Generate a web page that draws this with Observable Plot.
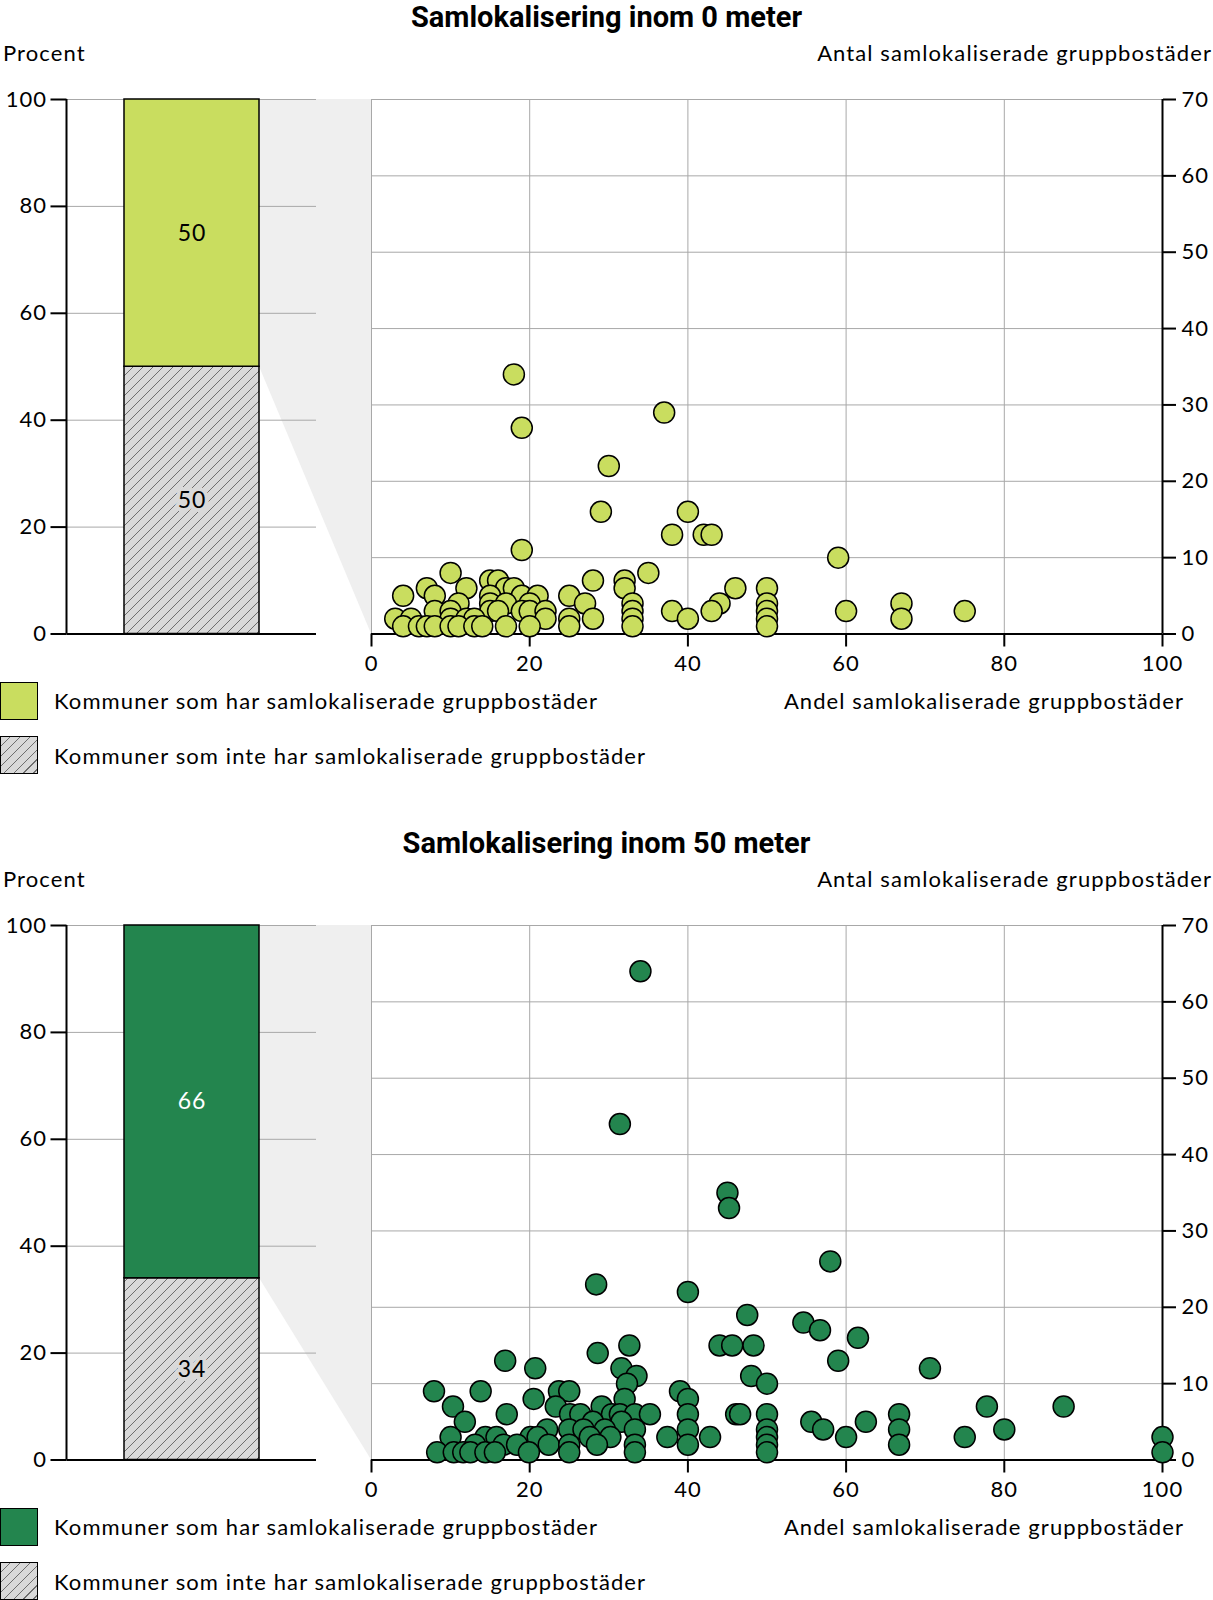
<!DOCTYPE html>
<html><head><meta charset="utf-8">
<script src="https://cdn.jsdelivr.net/npm/d3@7"></script>
<script src="https://cdn.jsdelivr.net/npm/@observablehq/plot@0.6"></script>
<style>
body{margin:0;background:#fff;color:#000;font-family:Lato,"Noto Sans",sans-serif;}
#root{position:relative;width:1213px;height:1600px;overflow:hidden;}
.panel{position:absolute;left:0;width:1213px;height:826px;}
.panel svg{position:absolute;left:0;top:0;}
.t{position:absolute;white-space:nowrap;font-size:22px;line-height:1;letter-spacing:1.1px;transform:translateY(-50%);}
.title{position:absolute;left:0;width:1213px;text-align:center;white-space:nowrap;font-family:Roboto,sans-serif;font-weight:700;font-size:29px;line-height:1;transform:translateY(-50%);}
.sw{position:absolute;left:0;width:36px;height:36px;border:1px solid #000;box-sizing:content-box;}
</style></head>
<body><div id="root"></div>
<script>
const panelTitles = ["Samlokalisering inom 0 meter", "Samlokalisering inom 50 meter"];
const leftAxisLabel = "Procent";
const rightAxisLabel = "Antal samlokaliserade gruppbostäder";
const xAxisLabel = "Andel samlokaliserade gruppbostäder";
const legendLabels = ["Kommuner som har samlokaliserade gruppbostäder", "Kommuner som inte har samlokaliserade gruppbostäder"];
const barHar = [50, 66];
const barInte = [50, 34];
const colorsHar = ["#c9dd5f", "#23854e"];
const labelColorsHar = ["#000", "#fff"];
const xTicks = [0, 20, 40, 60, 80, 100];
const yTicksAntal = [0, 10, 20, 30, 40, 50, 60, 70];
const yTicksProcent = [0, 20, 40, 60, 80, 100];

const andel0 = [18,19,37,30,29,40,38,42,43,19, 59,10,35,28,32,15,16,7,12,17, 18,32,46,50,4,8,15,19,21,25, 11,15,17,20,27,33,44,50,67,8, 10,15,16,19,20,22,33,38,43,50, 60,75,3,5,10,12,13,22,25,28, 33,40,50,67,4,6,7,8,10,11, 13,14,17,20,25,33,50];
const antal0 = [34,27,29,22,16,16,13,13,13,11, 10,8,8,7,7,7,7,6,6,6, 6,6,6,6,5,5,5,5,5,5, 4,4,4,4,4,4,4,4,4, 3,3,3,3,3,3,3,3,3,3,3,3,3, 2,2,2,2,2,2,2,2,2,2,2,2, 1,1,1,1,1,1,1,1,1,1,1,1,1];

const andel50 = [34,31.4,45,45.2,58,28.4,40,47.5,54.6,56.7, 61.5,32.6,44,45.6,48.3,28.6,16.9,59,20.7,31.6, 70.6,33.5,48,32.3,50,7.9,13.8,23.7,25,39, 20.5,32,40,10.3,23.3,29.1,77.8,87.5,17.1,25.1, 26.4,30.4,31.4,33.3,35.2,40,46.1,46.6,50,66.7, 11.8,28,31.6,55.6,62.5,22.2,25,26.8,29.5,33.3, 40,50,57.1,66.7,80,10,14.4,15.8,20.1,21, 27.6,30.2,37.4,42.8,50,60,75,100,13.1,16.7, 18.4,22.4,25,28.5,33.3,40,50,66.7,8.3,10.4, 11.6,12.5,14.4,15.6,19.9,25,33.3,50,100];
const antal50 = [64,44,35,33,26,23,22,19,18,17, 16,15,15,15,15,14,13,13,12,12, 12,11,11,10,10,9,9,9,9,9, 8,8,8,7,7,7,7,7,6,6, 6,6,6,6,6,6,6,6,6,6, 5,5,5,5,5,4,4,4,4,4, 4,4,4,4,4,3,3,3,3,3, 3,3,3,3,3,3,3,3,2,2, 2,2,2,2,2,2,2,2,1,1, 1,1,1,1,1,1,1,1,1];

const andelSets = [andel0, andel50];
const antalSets = [antal0, antal50];

const GRID = "#a8a8a8";
const FONT = "Lato, 'Noto Sans', sans-serif";
const style = {fontFamily: FONT, fontSize: "22px", letterSpacing: "1px", color: "#000", background: "transparent", overflow: "visible"};
const H = 680, TOP = 99, BOTTOM = H - 633.5, SPLIT = 371, RIGHT = 51;

const root = document.getElementById("root");

function addText(parent, cls, text, css) {
  const d = document.createElement("div");
  d.className = cls; d.textContent = text;
  Object.assign(d.style, css);
  parent.appendChild(d);
  return d;
}

function trapezoidMark(share, hatchId) {
  return (index, scales, values, dims) => {
    const g = d3.create("svg:g");
    const p = g.append("defs").append("pattern").attr("id", hatchId)
      .attr("patternUnits", "userSpaceOnUse").attr("width", 10).attr("height", 10);
    p.append("rect").attr("width", 10).attr("height", 10).attr("fill", "#d9d9d9");
    p.append("path").attr("d", "M-2,2L2,-2M0,10L10,0M8,12L12,8")
      .attr("stroke", "#6e6e6e").attr("stroke-width", 1);
    const xr = scales.x("bar") + scales.x.bandwidth();
    const w = dims.width;
    const pts = [[xr, scales.y(100)], [w, scales.y(100)], [w, scales.y(0)], [xr, scales.y(share)]];
    g.append("polygon").attr("points", pts.map(q => q.join(",")).join(" ")).attr("fill", "#efefef");
    return g.node();
  };
}

function leftAxisLine() {
  return (index, scales, values, dims) => {
    const g = d3.create("svg:g");
    g.append("line").attr("x1", dims.marginLeft).attr("x2", dims.marginLeft)
      .attr("y1", scales.y(0)).attr("y2", scales.y(100))
      .attr("stroke", "#000").attr("stroke-width", 2);
    return g.node();
  };
}

for (let i = 0; i < 2; i++) {
  const panel = document.createElement("div");
  panel.className = "panel";
  panel.style.top = (i * 826) + "px";
  root.appendChild(panel);

  const pts = andelSets[i].map((a, j) => ({andel: a, antal: antalSets[i][j]}));
  const scatter = Plot.plot({
    width: 1213, height: H,
    marginLeft: SPLIT, marginRight: RIGHT, marginTop: TOP, marginBottom: BOTTOM,
    x: {domain: [0, 100], axis: null},
    y: {domain: [0, 70], axis: null},
    style,
    marks: [
      Plot.gridX(xTicks.filter(t => t < 100), {stroke: GRID, strokeOpacity: 1}),
      Plot.gridY(yTicksAntal.filter(t => t > 0), {stroke: GRID, strokeOpacity: 1}),
      Plot.ruleY([0], {strokeWidth: 2}),
      Plot.ruleX([100], {strokeWidth: 2}),
      Plot.axisX(xTicks, {tickSize: 13, tickPadding: 8, fontSize: 22, strokeWidth: 2, label: null}),
      Plot.axisY(yTicksAntal, {anchor: "right", tickSize: 13, tickPadding: 6, fontSize: 22, strokeWidth: 2, label: null}),
      Plot.dot(pts, {x: "andel", y: "antal", r: 10.5, fill: colorsHar[i], stroke: "#000", strokeWidth: 1.5})
    ]
  });
  panel.appendChild(scatter);

  const hatchId = "hatch" + i;
  const inte = barInte[i], har = barHar[i];
  const rowsInte = [{k: "bar", y1: 0, y2: inte, mid: inte / 2, v: inte}];
  const rowsHar = [{k: "bar", y1: inte, y2: inte + har, mid: inte + har / 2, v: har}];
  const bar = Plot.plot({
    width: SPLIT, height: H,
    marginLeft: 66.5, marginRight: 55, marginTop: TOP, marginBottom: BOTTOM,
    x: {domain: ["bar"], padding: 0.295, axis: null},
    y: {domain: [0, 100], axis: null},
    style,
    marks: [
      trapezoidMark(inte, hatchId),
      Plot.gridY(yTicksProcent.filter(t => t > 0), {stroke: GRID, strokeOpacity: 1}),
      Plot.barY(rowsInte, {x: "k", y1: "y1", y2: "y2", fill: `url(#${hatchId})`, stroke: "#000", strokeWidth: 1.5}),
      Plot.barY(rowsHar, {x: "k", y1: "y1", y2: "y2", fill: colorsHar[i], stroke: "#000", strokeWidth: 1.5}),
      Plot.text(rowsInte, {x: "k", y: "mid", text: d => String(d.v), fontSize: 23, fill: "#000", stroke: "#d9d9d9", strokeWidth: 8, paintOrder: "stroke"}),
      Plot.text(rowsHar, {x: "k", y: "mid", text: d => String(d.v), fontSize: 23, fill: labelColorsHar[i]}),
      Plot.ruleY([0], {strokeWidth: 2}),
      leftAxisLine(),
      Plot.axisY(yTicksProcent, {anchor: "left", tickSize: 16, tickPadding: 4, fontSize: 22, strokeWidth: 2, label: null})
    ]
  });
  panel.appendChild(bar);

  addText(panel, "title", panelTitles[i], {top: "16.5px"});
  addText(panel, "t", leftAxisLabel, {left: "3px", top: "52.5px"});
  addText(panel, "t", rightAxisLabel, {right: "1px", top: "52.5px"});
  addText(panel, "t", xAxisLabel, {right: "29px", top: "701px"});

  const sw1 = document.createElement("div");
  sw1.className = "sw"; sw1.style.top = "681.5px"; sw1.style.background = colorsHar[i];
  panel.appendChild(sw1);
  const sw2 = document.createElement("div");
  sw2.className = "sw"; sw2.style.top = "735.5px";
  sw2.style.background = "repeating-linear-gradient(135deg, #d9d9d9 0px, #d9d9d9 6px, #6e6e6e 6px, #6e6e6e 7px)";
  panel.appendChild(sw2);
  addText(panel, "t", legendLabels[0], {left: "54px", top: "701px"});
  addText(panel, "t", legendLabels[1], {left: "54px", top: "756px"});
}
</script>
</body></html>
